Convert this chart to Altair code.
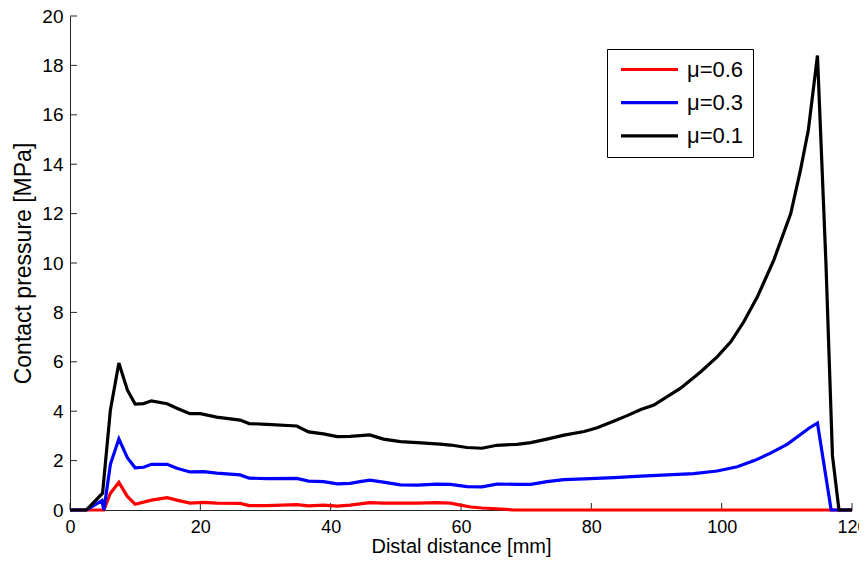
import altair as alt
import pandas as pd

# ---- data ----
labels = ["μ=0.6", "μ=0.3", "μ=0.1"]
colors = ["#ff0000", "#0000ff", "#000000"]

x_06 = [0, 5.2, 6.2, 7.5, 8.8, 10.0, 12.5, 14.9, 16.4, 18.4, 20.5, 22.5, 26.1, 27.5,
        30.2, 34.8, 36.6, 38.9, 41.0, 43.0, 44.5, 46.0, 48.1, 50.7, 53.3, 56.3, 58.4,
        59.9, 61.5, 63.2, 65.5, 68.1, 120]
y_06 = [0, 0, 0.68, 1.12, 0.55, 0.23, 0.40, 0.50, 0.40, 0.28, 0.31, 0.28, 0.27, 0.18,
        0.18, 0.22, 0.17, 0.20, 0.16, 0.20, 0.25, 0.30, 0.28, 0.28, 0.28, 0.30, 0.28,
        0.20, 0.12, 0.08, 0.05, 0, 0]

x_03 = [0, 2.5, 4.9, 5.2, 6.2, 7.5, 8.8, 10.0, 11.3, 12.5, 14.9, 16.4, 18.4, 20.5,
        22.5, 26.1, 27.5, 30.2, 34.8, 36.6, 38.9, 41.0, 43.0, 44.5, 46.0, 48.1, 50.7,
        53.3, 56.3, 58.4, 60.9, 63.2, 65.5, 68.6, 70.7, 73.2, 75.8, 78.9, 83.5, 87.6,
        91.7, 95.7, 99.3, 102.4, 105.0, 107.5, 110.1, 112.1, 113.5, 114.7, 116.8, 120]
y_03 = [0, 0, 0.38, 0, 1.85, 2.88, 2.12, 1.71, 1.73, 1.85, 1.85, 1.69, 1.54, 1.55,
        1.49, 1.42, 1.29, 1.27, 1.28, 1.17, 1.15, 1.06, 1.08, 1.15, 1.21, 1.13, 1.02,
        1.01, 1.05, 1.04, 0.95, 0.94, 1.05, 1.04, 1.04, 1.15, 1.23, 1.26, 1.31, 1.37,
        1.42, 1.47, 1.58, 1.75, 2.00, 2.30, 2.67, 3.06, 3.33, 3.52, 0, 0]

x_01 = [0, 2.5, 5.0, 6.2, 7.5, 8.8, 10.0, 11.3, 12.5, 14.9, 16.4, 18.4, 20.0, 22.5,
        26.1, 27.5, 30.2, 34.8, 36.6, 38.9, 41.0, 43.0, 46.0, 48.1, 50.7, 53.3, 56.8,
        58.4, 60.9, 63.2, 65.5, 68.6, 70.7, 73.2, 75.8, 78.9, 80.9, 83.5, 85.5, 87.6,
        89.6, 93.7, 96.8, 99.3, 101.4, 103.4, 105.5, 108.0, 110.6, 112.1, 113.3, 114.7,
        116.0, 117.0, 118.0, 120]
y_01 = [0, 0, 0.68, 4.05, 5.95, 4.86, 4.29, 4.31, 4.42, 4.30, 4.12, 3.90, 3.90, 3.76,
        3.64, 3.50, 3.47, 3.40, 3.16, 3.08, 2.97, 2.98, 3.04, 2.87, 2.77, 2.73, 2.67,
        2.63, 2.53, 2.50, 2.62, 2.66, 2.73, 2.87, 3.03, 3.18, 3.33, 3.60, 3.82, 4.07,
        4.25, 4.93, 5.60, 6.20, 6.81, 7.62, 8.64, 10.12, 12.00, 13.77, 15.38, 18.40,
        10.0, 2.2, 0, 0]

x_ticks = [0, 20, 40, 60, 80, 100, 120]
y_ticks = [0, 2, 4, 6, 8, 10, 12, 14, 16, 18, 20]

rows = []
for lab, xs, ys in zip(labels, [x_06, x_03, x_01], [y_06, y_03, y_01]):
    for i, (a, b) in enumerate(zip(xs, ys)):
        rows.append({"series": lab, "x": a, "y": b, "i": i})
df = pd.DataFrame(rows)

W, H = 782, 494
FONT = "Liberation Sans, Arial, Helvetica, sans-serif"
AX = "#262626"

xscale = alt.Scale(domain=[0, 120], nice=False, zero=False)
yscale = alt.Scale(domain=[0, 20], nice=False)

x_axis = alt.Axis(
    values=x_ticks, ticks=False, tickSize=0, grid=False, domainColor=AX,
    labelFont=FONT, labelFontSize=18, labelColor="black", labelPadding=8,
    labelFlush=False, labelOverlap=False,
    title="Distal distance [mm]", titleFont=FONT, titleFontSize=20,
    titleFontWeight="normal", titleColor="black", titleY=36,
    titleBaseline="middle")
y_axis = alt.Axis(
    values=y_ticks, ticks=False, tickSize=0, grid=False, domainColor=AX,
    labelFont=FONT, labelFontSize=19, labelColor="black", labelPadding=7,
    labelOverlap=False,
    title="Contact pressure [MPa]", titleFont=FONT, titleFontSize=23,
    titleFontWeight="normal", titleColor="black", titleX=-46.5, titleY=H / 2,
    titleAngle=-90, titleBaseline="middle", titleAlign="center")

lines = alt.Chart(df).mark_line(strokeWidth=3.2).encode(
    x=alt.X("x:Q", scale=xscale, axis=x_axis),
    y=alt.Y("y:Q", scale=yscale, axis=y_axis),
    color=alt.Color("series:N", sort=labels,
                    scale=alt.Scale(domain=labels, range=colors),
                    legend=alt.Legend(
                        title=None, orient="none", legendX=537, legendY=33,
                        symbolType="stroke", symbolSize=3249, symbolStrokeWidth=3.2,
                        clipHeight=23, rowPadding=10.2, padding=9,
                        symbolOffset=3, labelOffset=7, labelFontSize=22,
                        labelFont=FONT, labelColor="black",
                        strokeColor="black", fillColor="white")),
    order="i:Q",
)

xt = alt.Chart(pd.DataFrame({"v": x_ticks})).mark_rule(color=AX, strokeWidth=1).encode(
    x=alt.X("v:Q", scale=xscale, axis=x_axis),
    y=alt.value(H), y2=alt.value(H - 7))
yt = alt.Chart(pd.DataFrame({"v": y_ticks})).mark_rule(color=AX, strokeWidth=1).encode(
    y=alt.Y("v:Q", scale=yscale, axis=y_axis),
    x=alt.value(0), x2=alt.value(7))

chart = alt.layer(xt, yt, lines).properties(
    width=W, height=H,
    autosize=alt.AutoSizeParams(type="none"),
    padding={"left": 62, "top": 8, "right": 7, "bottom": 47},
).configure_view(stroke=None)

chart.save("out.html", embed_options={"renderer": "svg", "actions": False})
